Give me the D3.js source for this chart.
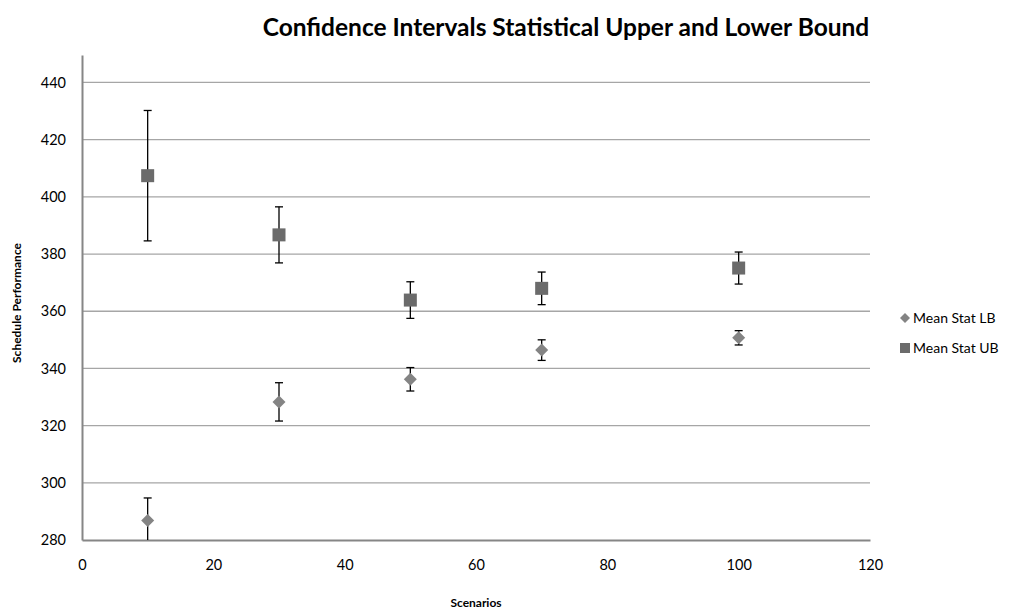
<!DOCTYPE html>
<html>
<head>
<meta charset="utf-8">
<script src="https://cdn.jsdelivr.net/npm/d3@7"></script>
<style>
  body { margin: 0; background: #fff; }
  svg { display: block; font-family: Lato, "Open Sans", sans-serif; }
</style>
</head>
<body>
<div id="wrap"></div>
<script>
// data
var scenarios = [10, 30, 50, 70, 100];
var lbMean = [286.8, 328.3, 336.2, 346.4, 350.7];
var lbErr = [7.9, 6.7, 4.1, 3.6, 2.5];
var ubMean = [407.4, 386.7, 363.9, 368.0, 375.1];
var ubErr = [22.8, 9.8, 6.4, 5.7, 5.6];
var xTicks = [0, 20, 40, 60, 80, 100, 120];
var yTicks = [280, 300, 320, 340, 360, 380, 400, 420, 440];

var W = 1029, H = 615;
var plotL = 82, plotR = 870, plotT = 55, plotB = 540;

var svg = d3.select('#wrap').append("svg")
    .attr("width", W)
    .attr("height", H);

var x = d3.scaleLinear().domain([0, 120]).range([plotL, plotR]);
var y = d3.scaleLinear().domain([280, 449.6]).range([plotB, plotT]);

// gridlines
svg.append("g")
    .selectAll("line")
    .data(yTicks.slice(1))
    .enter()
    .append("line")
    .attr("x1", plotL).attr("x2", plotR)
    .attr("y1", function(d) { return y(d); })
    .attr("y2", function(d) { return y(d); })
    .attr("stroke", "#a6a6a6")
    .attr("stroke-width", 1.3);

// axes
var yAxis = svg.append("g")
    .attr("transform", "translate(" + plotL + ",0)")
    .call(d3.axisLeft(y).tickValues(yTicks).tickSize(0).tickPadding(16));
var xAxis = svg.append("g")
    .attr("transform", "translate(0," + plotB + ")")
    .call(d3.axisBottom(x).tickValues(xTicks).tickSize(0).tickPadding(20));

[yAxis, xAxis].forEach(function(ax) {
    ax.select(".domain").attr("stroke", "#868686").attr("stroke-width", 2);
    ax.selectAll("text")
        .attr("font-family", "Lato, 'Open Sans', sans-serif")
        .attr("font-size", 14.5)
        .attr("fill", "#000");
});

// series
var lb = scenarios.map(function(s, i) { return {x: s, m: lbMean[i], e: lbErr[i]}; });
var ub = scenarios.map(function(s, i) { return {x: s, m: ubMean[i], e: ubErr[i]}; });

svg.append("clipPath").attr("id", "plotclip")
    .append("rect")
    .attr("x", plotL).attr("y", plotT)
    .attr("width", plotR - plotL).attr("height", plotB - plotT);

var drawErrors = function(data) {
    var g = svg.append("g").attr("clip-path", "url(#plotclip)");
    var eb = g.selectAll("g").data(data).enter().append("g");
    eb.append("line")
        .attr("x1", function(d) { return x(d.x); })
        .attr("x2", function(d) { return x(d.x); })
        .attr("y1", function(d) { return y(d.m - d.e); })
        .attr("y2", function(d) { return y(d.m + d.e); })
        .attr("stroke", "#000").attr("stroke-width", 1.3);
    [-1, 1].forEach(function(sgn) {
        eb.append("line")
            .attr("x1", function(d) { return x(d.x) - 4; })
            .attr("x2", function(d) { return x(d.x) + 4; })
            .attr("y1", function(d) { return y(d.m + sgn * d.e); })
            .attr("y2", function(d) { return y(d.m + sgn * d.e); })
            .attr("stroke", "#000").attr("stroke-width", 1.3);
    });
};

drawErrors(lb);
drawErrors(ub);

var diamond = "M0,-6.5L6.5,0L0,6.5L-6.5,0Z";
var lbColor = "#848484", ubColor = "#6b6b6b";

svg.append("g").selectAll("path")
    .data(lb).enter().append("path")
    .attr("d", diamond)
    .attr("transform", function(d) { return "translate(" + x(d.x) + "," + y(d.m) + ")"; })
    .attr("fill", lbColor);

svg.append("g").selectAll("rect")
    .data(ub).enter().append("rect")
    .attr("x", function(d) { return x(d.x) - 6.5; })
    .attr("y", function(d) { return y(d.m) - 6.5; })
    .attr("width", 13).attr("height", 13)
    .attr("fill", ubColor);

// titles
svg.append("text")
    .attr("x", 566).attr("y", 36)
    .attr("text-anchor", "middle")
    .attr("font-size", 24.5).attr("font-weight", "bold")
    .text("Confidence Intervals Statistical Upper and Lower Bound");

svg.append("text")
    .attr("x", (plotL + plotR) / 2).attr("y", 607)
    .attr("text-anchor", "middle")
    .attr("font-size", 12).attr("font-weight", "bold")
    .text("Scenarios");

svg.append("text")
    .attr("transform", "translate(21,303) rotate(-90)")
    .attr("text-anchor", "middle")
    .attr("font-size", 12).attr("font-weight", "bold")
    .text("Schedule Performance");

// legend
var legend = svg.append("g");
legend.append("path")
    .attr("d", "M0,-5L5,0L0,5L-5,0Z")
    .attr("transform", "translate(905,318)")
    .attr("fill", lbColor);
legend.append("text")
    .attr("x", 913).attr("y", 323)
    .attr("font-size", 14)
    .text("Mean Stat LB");
legend.append("rect")
    .attr("x", 900).attr("y", 343)
    .attr("width", 10).attr("height", 10)
    .attr("fill", ubColor);
legend.append("text")
    .attr("x", 913).attr("y", 353)
    .attr("font-size", 14)
    .text("Mean Stat UB");
</script>
</body>
</html>
